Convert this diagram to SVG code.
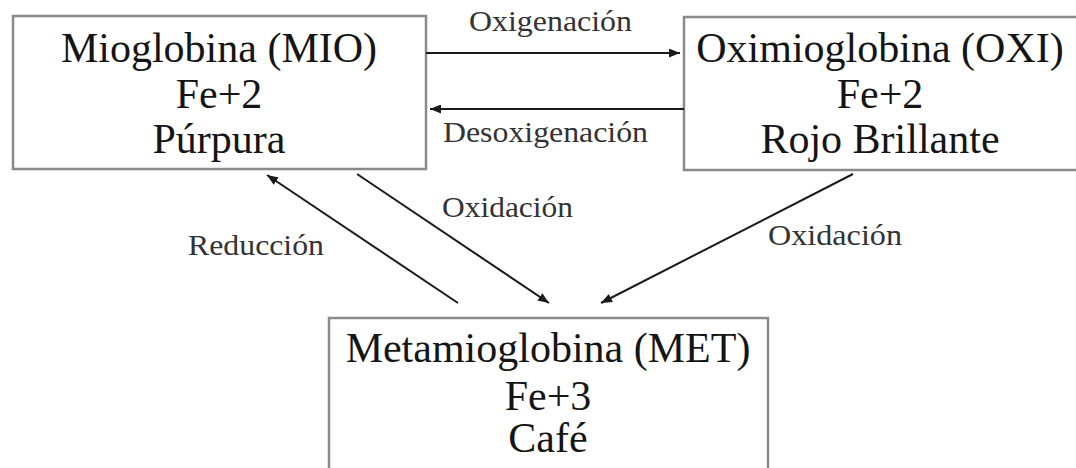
<svg xmlns="http://www.w3.org/2000/svg" width="1076" height="468" viewBox="0 0 1076 468">
<style>
.box{fill:#fff;stroke:#8a8a8a;stroke-width:2.5}
.t{font-family:"Liberation Serif","Times New Roman",serif;font-size:42px;fill:#151515;text-anchor:middle}
.l{font-family:"Liberation Serif","Times New Roman",serif;font-size:29px;fill:#333}
.c{stroke:#1a1a1a;stroke-width:2;fill:none;marker-end:url(#ah)}
</style>
<defs>
<marker id="ah" markerUnits="userSpaceOnUse" markerWidth="11" markerHeight="9" refX="11" refY="4.5" orient="auto">
<path d="M0,0 L11,4.5 L0,9 Z" fill="#1a1a1a"/>
</marker>
</defs>
<rect width="1076" height="468" fill="#fff"/>
<g id="mio">
<rect class="box" x="13" y="16" width="413" height="153"/>
<text class="t" x="219" y="62">Mioglobina (MIO)</text>
<text class="t" x="219" y="108">Fe+2</text>
<text class="t" x="219" y="153">Púrpura</text>
</g>
<g id="oxi">
<path class="box" d="M1080,17 H684 V170 H1080"/>
<text class="t" x="880" y="62">Oximioglobina (OXI)</text>
<text class="t" x="880" y="108">Fe+2</text>
<text class="t" x="880" y="153">Rojo Brillante</text>
</g>
<g id="met">
<path class="box" d="M329,470 V318 H768 V470"/>
<text class="t" x="548" y="362">Metamioglobina (MET)</text>
<text class="t" x="548" y="410">Fe+3</text>
<text class="t" x="548" y="452">Café</text>
</g>
<g id="connectors">
<line class="c" x1="426" y1="53" x2="680" y2="53"/>
<line class="c" x1="684" y1="109" x2="430" y2="109"/>
<line class="c" x1="458" y1="303" x2="267" y2="175"/>
<line class="c" x1="357" y1="174" x2="549" y2="303"/>
<line class="c" x1="853" y1="174" x2="601" y2="303"/>
<text class="l" x="469" y="31" textLength="163" lengthAdjust="spacingAndGlyphs">Oxigenación</text>
<text class="l" x="443" y="142" textLength="205" lengthAdjust="spacingAndGlyphs">Desoxigenación</text>
<text class="l" x="188" y="255" textLength="136" lengthAdjust="spacingAndGlyphs">Reducción</text>
<text class="l" x="442" y="217" textLength="131" lengthAdjust="spacingAndGlyphs">Oxidación</text>
<text class="l" x="768" y="245" textLength="134" lengthAdjust="spacingAndGlyphs">Oxidación</text>
</g>
</svg>
